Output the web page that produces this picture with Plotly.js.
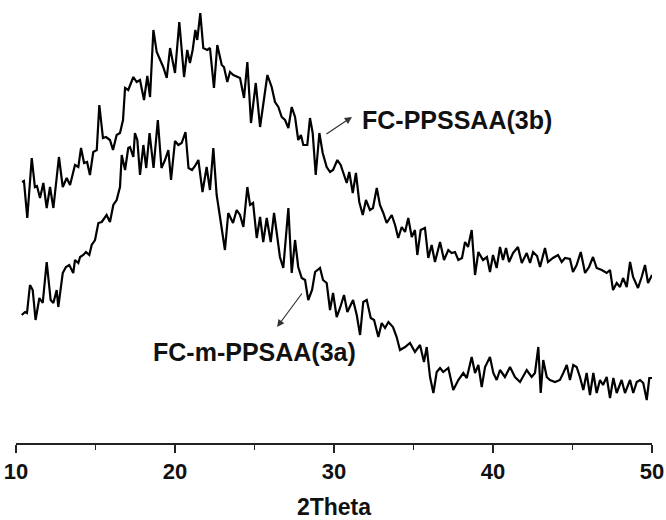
<!DOCTYPE html>
<html>
<head>
<meta charset="utf-8">
<script src="https://cdn.plot.ly/plotly-3.0.1.min.js"></script>
<style>html,body{margin:0;padding:0;background:#fff;}#chart{width:666px;height:520px;}</style>
</head>
<body>
<div id="chart"></div>
<script>
// FC-PPSSAA(3b) — upper pattern (2θ, intensity a.u.)
const theta3b = [10.38,10.50,10.71,10.99,11.19,11.32,11.51,11.72,11.93,12.14,12.35,12.70,12.94,13.19,13.40,13.71,13.92,14.09,14.28,14.47,14.65,14.86,15.08,15.24,15.47,15.66,15.91,16.10,16.33,16.54,16.73,16.86,17.06,17.38,17.59,17.80,18.05,18.26,18.43,18.64,18.85,19.06,19.26,19.48,19.69,20.00,20.27,20.57,20.77,20.94,21.11,21.28,21.40,21.59,21.78,22.03,22.20,22.45,22.66,22.94,23.08,23.29,23.46,23.67,24.09,24.34,24.55,24.78,25.08,25.35,25.55,25.81,26.08,26.29,26.50,26.71,26.92,27.13,27.34,27.55,27.75,27.92,28.07,28.32,28.49,28.66,28.85,29.08,29.29,29.54,29.75,29.94,30.21,30.42,30.59,30.80,30.96,31.18,31.38,31.59,31.81,32.01,32.26,32.45,32.69,32.89,33.10,33.31,33.63,33.84,34.04,34.26,34.47,34.67,34.89,35.09,35.24,35.45,35.72,35.93,36.14,36.35,36.67,36.92,37.19,37.40,37.61,37.82,38.05,38.24,38.43,38.66,38.87,39.08,39.37,39.62,39.81,40.00,40.23,40.44,40.63,40.82,41.01,41.26,41.57,41.81,42.12,42.33,42.52,42.77,42.96,43.27,43.46,43.77,44.09,44.32,44.53,44.84,45.03,45.26,45.52,45.79,46.04,46.29,46.52,46.84,47.15,47.36,47.55,47.78,47.99,48.18,48.41,48.62,48.81,49.12,49.35,49.56,49.75,50.00];
const int3b = [261,262,225,285,256,257,245,260,235,256,235,286,256,265,258,278,276,295,280,281,268,291,293,338,305,306,303,293,308,310,323,355,353,366,361,363,343,367,346,413,391,383,376,365,395,370,421,366,393,380,393,413,403,430,395,393,395,355,398,378,376,361,371,368,365,345,381,320,360,316,340,368,356,341,336,326,323,315,336,326,303,308,298,298,325,310,268,310,290,276,271,273,283,278,270,260,271,250,270,241,228,243,233,235,255,238,230,220,228,218,205,216,211,225,206,213,188,213,215,185,198,181,201,183,193,190,191,183,185,201,196,213,168,191,183,186,171,188,175,196,183,195,181,190,196,180,190,180,191,187,176,195,181,185,188,181,185,184,171,178,191,170,176,186,175,173,170,173,153,160,156,165,156,181,166,155,166,178,160,168];

// FC-m-PPSAA(3a) — lower pattern
const theta3a = [10.36,10.57,10.69,10.88,11.05,11.23,11.47,11.68,11.93,12.18,12.35,12.56,12.66,12.94,13.14,13.35,13.60,13.71,13.92,14.03,14.23,14.40,14.61,14.76,14.97,15.18,15.39,15.70,15.91,16.12,16.33,16.54,16.65,16.86,17.06,17.17,17.38,17.48,17.63,17.80,18.01,18.19,18.40,18.65,18.92,19.15,19.37,19.58,19.75,20.00,20.21,20.42,20.66,20.85,21.07,21.26,21.47,21.73,21.99,22.20,22.41,22.62,22.83,23.14,23.35,23.65,23.88,24.09,24.30,24.55,24.72,24.91,25.14,25.35,25.55,25.77,26.02,26.23,26.40,26.60,26.81,27.13,27.34,27.55,27.75,27.97,28.18,28.38,28.62,28.81,29.12,29.31,29.54,29.75,29.94,30.17,30.38,30.63,30.84,31.01,31.20,31.43,31.64,31.84,32.06,32.31,32.52,32.79,33.00,33.21,33.42,33.71,33.94,34.15,34.47,34.78,35.09,35.41,35.66,35.83,36.04,36.25,36.46,36.67,36.87,37.19,37.50,37.82,38.13,38.35,38.66,38.87,39.08,39.29,39.50,39.81,40.02,40.23,40.44,40.75,41.07,41.38,41.70,42.12,42.43,42.64,42.85,43.00,43.16,43.38,43.58,43.90,44.21,44.42,44.64,44.84,45.05,45.26,45.47,45.68,45.89,46.10,46.31,46.52,46.73,46.92,47.15,47.36,47.57,47.78,48.09,48.30,48.62,48.82,49.04,49.25,49.45,49.67,49.83,50.00];
const int3a = [128,131,130,158,153,123,145,140,181,143,140,153,136,170,176,178,170,183,180,186,188,191,188,198,203,220,221,228,221,238,243,256,288,273,295,296,286,310,303,268,298,275,310,275,323,275,283,293,263,302,298,300,311,275,273,277,283,251,276,253,295,248,226,193,230,220,233,228,216,256,238,240,205,226,201,225,201,230,210,186,175,235,170,203,176,165,163,143,153,171,175,163,160,133,150,126,135,148,131,136,143,128,108,141,143,125,123,106,120,115,121,116,106,93,96,100,91,98,81,96,66,50,71,75,71,75,53,63,70,65,86,70,78,56,76,86,70,63,73,66,76,66,61,73,66,70,96,50,83,66,63,61,63,70,78,63,78,76,66,53,70,48,70,50,63,58,66,45,65,50,63,50,63,50,61,63,60,43,65,65];

const xTicks = [10,20,30,40,50];
const label3b = 'FC-PPSSAA(3b)';
const label3a = 'FC-m-PPSAA(3a)';
const xTitle = '2Theta';

const lineStyle = {color:'#000', width:2.2};
const traces = [
  {x:theta3b, y:int3b, type:'scatter', mode:'lines', line:lineStyle, showlegend:false, hoverinfo:'skip'},
  {x:theta3a, y:int3a, type:'scatter', mode:'lines', line:lineStyle, showlegend:false, hoverinfo:'skip'}
];

const labelFont = {family:'Arial, "Liberation Sans", sans-serif', size:25, color:'#111', weight:'bold'};

const layout = {
  width:666, height:520,
  margin:{l:16, r:14, t:0, b:77},
  paper_bgcolor:'#fff', plot_bgcolor:'#fff',
  showlegend:false,
  xaxis:{
    range:[10,50], tickvals:xTicks, ticktext:xTicks.map(String),
    showgrid:false, zeroline:false,
    showline:true, linecolor:'#222', linewidth:1.5,
    ticks:'outside', ticklen:8, tickwidth:1.5, tickcolor:'#222',
    minor:{dtick:5, tick0:10, ticks:'outside', ticklen:5, tickwidth:1.5, tickcolor:'#222', showgrid:false},
    tickfont:{family:'"Liberation Sans Narrow", Arial, sans-serif', size:22, color:'#111', weight:'bold'},
    title:{text:xTitle, font:{family:'Arial, "Liberation Sans", sans-serif', size:23, color:'#111', weight:'bold'}, standoff:20},
    automargin:false, fixedrange:true
  },
  yaxis:{range:[0,443], visible:false, fixedrange:true},
  annotations:[
    {x:31.13, y:326, ax:29.43, ay:308, axref:'x', ayref:'y', xref:'x', yref:'y', text:'', showarrow:true, arrowhead:2, arrowsize:1.2, arrowwidth:1.2, arrowcolor:'#333', standoff:0},
    {x:31.64, y:323, xref:'x', yref:'y', text:label3b, showarrow:false, xanchor:'left', yanchor:'middle', font:labelFont},
    {x:26.42, y:116, ax:28.05, ay:151, axref:'x', ayref:'y', xref:'x', yref:'y', text:'', showarrow:true, arrowhead:2, arrowsize:1.2, arrowwidth:1.2, arrowcolor:'#333', standoff:0},
    {x:25.03, y:91, xref:'x', yref:'y', text:label3a, showarrow:false, xanchor:'center', yanchor:'middle', font:labelFont}
  ]
};

Plotly.newPlot('chart', traces, layout, {staticPlot:true, displayModeBar:false});
</script>
</body>
</html>
